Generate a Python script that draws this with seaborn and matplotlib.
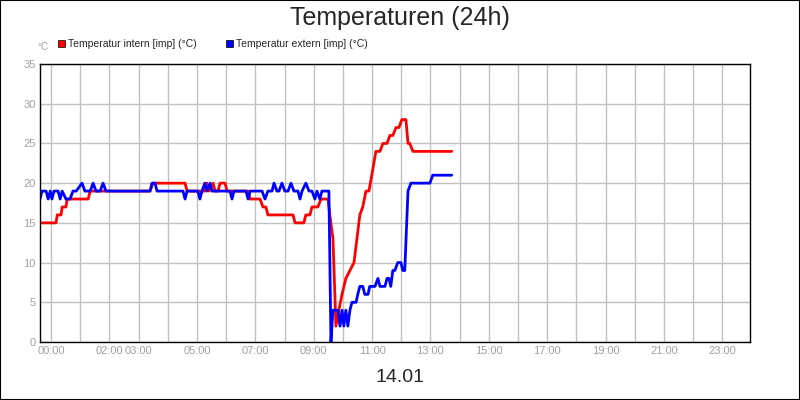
import numpy as np
import pandas as pd
import seaborn as sns
import matplotlib.pyplot as plt
from matplotlib.patches import Rectangle

# Zeit in Stunden (14.01), Werte in °C
t_intern = [-0.38, 0.17, 0.21, 0.34, 0.38, 0.51, 0.55, 1.27, 1.34, 3.39, 3.49, 4.59, 4.66,
            5.27, 5.34, 5.41, 5.55, 5.62, 5.72, 5.79, 5.96, 6.03, 6.75, 6.82, 7.16, 7.26,
            7.36, 7.43, 8.29, 8.36, 8.66, 8.73, 8.87, 8.94, 9.14, 9.25, 9.49, 9.55, 9.66,
            9.76, 9.86, 9.97, 10.10, 10.24, 10.38, 10.48, 10.58, 10.68, 10.79, 10.89, 10.99,
            11.13, 11.27, 11.37, 11.51, 11.61, 11.71, 11.82, 11.92, 12.02, 12.16, 12.23,
            12.29, 12.40, 13.73]
v_intern = [15, 15, 16, 16, 17, 17, 18, 18, 19, 19, 20, 20, 19,
            19, 20, 19, 20, 19, 19, 20, 20, 19, 19, 18, 18, 17,
            17, 16, 16, 15, 15, 16, 16, 17, 17, 18, 18, 16, 13,
            2, 4, 6, 8, 9, 10, 13, 16, 17, 19, 19, 21,
            24, 24, 25, 25, 26, 26, 27, 27, 28, 28, 25,
            25, 24, 24]

t_extern = [-0.38, -0.31, -0.17, -0.10, -0.03, 0.03, 0.10, 0.24, 0.31, 0.38, 0.51, 0.65,
            0.75, 0.86, 1.06, 1.16, 1.34, 1.44, 1.54, 1.68, 1.78, 1.88, 3.39, 3.46, 3.56,
            3.63, 4.52, 4.59, 4.66, 5.03, 5.10, 5.17, 5.27, 5.34, 5.45, 5.51, 6.13, 6.20,
            6.27, 6.68, 6.75, 6.82, 7.23, 7.33, 7.43, 7.57, 7.64, 7.74, 7.81, 7.91, 8.01,
            8.12, 8.22, 8.32, 8.46, 8.53, 8.60, 8.73, 8.84, 8.94, 9.04, 9.11, 9.21, 9.28,
            9.52, 9.59, 9.66, 9.83, 9.90, 9.97, 10.03, 10.10, 10.17, 10.24, 10.31, 10.45,
            10.51, 10.58, 10.68, 10.75, 10.86, 10.92, 11.10, 11.20, 11.27, 11.44, 11.51,
            11.58, 11.64, 11.71, 11.78, 11.88, 11.99, 12.05, 12.12, 12.23, 12.33, 12.98,
            13.08, 13.73]
v_extern = [18, 19, 19, 18, 19, 18, 19, 19, 18, 19, 18, 18,
            19, 19, 20, 19, 19, 20, 19, 19, 20, 19, 19, 20, 20,
            19, 19, 18, 19, 19, 18, 19, 20, 19, 20, 19, 19, 18,
            19, 19, 18, 19, 19, 18, 19, 19, 20, 19, 19, 20, 19,
            19, 20, 19, 19, 18, 19, 20, 19, 19, 18, 19, 18, 19,
            19, 0, 4, 4, 2, 4, 2, 4, 2, 4, 5, 5,
            6, 7, 7, 6, 6, 7, 7, 8, 7, 7, 8,
            8, 7, 9, 9, 10, 10, 9, 9, 19, 20, 20,
            21, 21]

tick_hours = [0, 2, 3, 5, 7, 9, 11, 13, 15, 17, 19, 21, 23]
tick_labels = [f"{h:02d}:00" for h in tick_hours]
series_names = ["Temperatur intern [imp] (°C)", "Temperatur extern [imp] (°C)"]
colors = ["#ff0000", "#0000ff"]

df = pd.concat([
    pd.DataFrame({"t": t_intern, "v": v_intern, "s": series_names[0]}),
    pd.DataFrame({"t": t_extern, "v": v_extern, "s": series_names[1]}),
])

sns.set_style("white")
plt.rcParams["font.family"] = ["Liberation Sans", "DejaVu Sans"]
fig = plt.figure(figsize=(8, 4), dpi=100)
ax = fig.add_axes([0.05, 0.145, 0.8875, 0.695])
sns.lineplot(data=df, x="t", y="v", hue="s", palette=colors, sort=False,
             estimator=None, linewidth=2, legend=False, ax=ax)

ax.set_xlim(-0.38, 23.95)
ax.set_ylim(0, 35)
ax.set_xticks(range(0, 24), minor=True)
ax.set_xticks(tick_hours)
ax.set_xticklabels(tick_labels)
ax.set_yticks(range(0, 36, 5))
ax.grid(True, which="both", axis="x", color="#c0c0c0", linewidth=1)
ax.grid(True, axis="y", color="#c0c0c0", linewidth=1)
ax.set_axisbelow(True)
ax.tick_params(labelsize=8, labelcolor="#a0a0a0", length=0, pad=3)
ax.set_xlabel("")
ax.set_ylabel("")
for sp in ax.spines.values():
    sp.set_color("black")
    sp.set_linewidth(1)

fig.text(0.5, 0.955, "Temperaturen (24h)", ha="center", va="center", fontsize=18)
fig.text(0.5, 0.055, "14.01", ha="center", va="center", fontsize=14)
fig.text(0.047, 0.883, "°C", ha="left", va="center", fontsize=7, color="#a0a0a0")

# Legende
for x0, name, c in [(0.072, series_names[0], colors[0]), (0.282, series_names[1], colors[1])]:
    fig.patches.append(Rectangle((x0, 0.882), 0.009, 0.018, transform=fig.transFigure,
                                 facecolor=c, edgecolor="black", linewidth=0.5))
    fig.text(x0 + 0.013, 0.891, name, ha="left", va="center", fontsize=7.5)

fig.patches.append(Rectangle((0, 0), 1, 1, transform=fig.transFigure, fill=False,
                             edgecolor="black", linewidth=1.5))
fig.savefig("out.png", dpi=100)
